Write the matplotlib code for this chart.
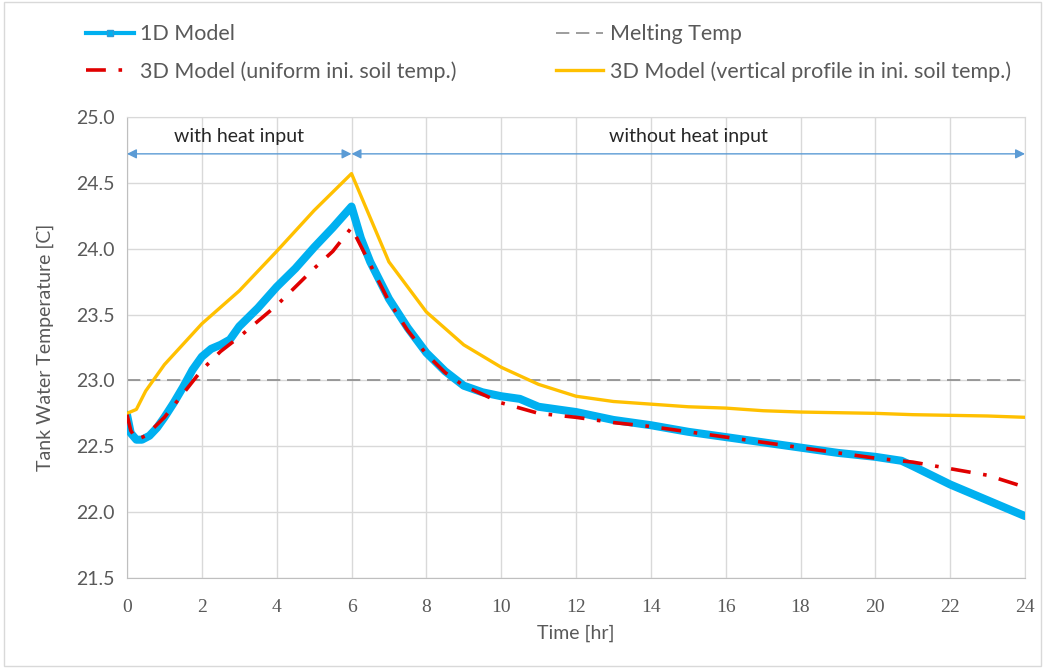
import matplotlib.pyplot as plt
from matplotlib.patches import Rectangle
import numpy as np

plt.rcParams['font.family'] = ['Lato', 'DejaVu Sans']

# data
t_1d = [0, 0.1, 0.25, 0.4, 0.6, 0.8, 1.0, 1.25, 1.5, 1.75, 2.0, 2.25, 2.5, 2.75, 3.0, 3.5, 4.0, 4.5, 5.0, 5.5, 6.0,
        6.25, 6.5, 7.0, 7.5, 8.0, 8.5, 9.0, 9.5, 10.0, 10.5, 11.0, 11.5, 12.0, 13.0, 14.0, 15.0, 16.0, 17.0, 18.0,
        19.0, 20.0, 20.7, 21.0, 22.0, 23.0, 24.0]
temp_1d = [22.74, 22.60, 22.55, 22.55, 22.58, 22.64, 22.72, 22.83, 22.95, 23.08, 23.18, 23.24, 23.27, 23.31, 23.41,
           23.55, 23.71, 23.85, 24.01, 24.16, 24.32, 24.08, 23.90, 23.62, 23.40, 23.21, 23.07, 22.96, 22.91, 22.88,
           22.86, 22.80, 22.78, 22.76, 22.70, 22.66, 22.61, 22.57, 22.53, 22.49, 22.45, 22.42, 22.39, 22.35, 22.21,
           22.09, 21.97]

t_3d_u = [0, 0.1, 0.25, 0.5, 1, 1.5, 2, 2.5, 3, 3.5, 4, 4.5, 5, 5.5, 6, 6.5, 7, 7.5, 8, 8.5, 9, 10, 11, 12, 13, 14,
          15, 16, 17, 18, 19, 20, 21, 22, 23, 24]
temp_3d_u = [22.74, 22.62, 22.55, 22.58, 22.72, 22.90, 23.08, 23.22, 23.33, 23.45, 23.57, 23.71, 23.85, 23.98, 24.16,
             23.88, 23.60, 23.38, 23.20, 23.06, 22.96, 22.83, 22.75, 22.72, 22.68, 22.65, 22.61, 22.57, 22.53, 22.49,
             22.45, 22.41, 22.38, 22.33, 22.28, 22.19]

t_3d_v = [0, 0.25, 0.5, 1, 2, 3, 4, 5, 6, 7, 8, 9, 10, 11, 12, 13, 14, 15, 16, 17, 18, 19, 20, 21, 22, 23, 24]
temp_3d_v = [22.75, 22.78, 22.92, 23.12, 23.43, 23.68, 23.98, 24.29, 24.57, 23.90, 23.52, 23.27, 23.10, 22.97, 22.88,
             22.84, 22.82, 22.80, 22.79, 22.77, 22.76, 22.755, 22.75, 22.74, 22.735, 22.73, 22.72]

melt_temp = 23.0
x_ticks = np.arange(0, 25, 2)
y_ticks = np.arange(21.5, 25.01, 0.5)

fig = plt.figure(figsize=(10.47, 6.68), dpi=100)
ax = fig.add_axes([0.1213, 0.1347, 0.8577, 0.6902])

ax.plot(t_1d, temp_1d, color='#00B0F0', lw=5.8, solid_capstyle='round', solid_joinstyle='round',
        label='1D Model', zorder=3)
ax.plot(t_3d_u, temp_3d_u, color='#E00000', lw=2.6, linestyle=(0, (5.5, 3.5, 1, 3.5)),
        label='3D Model (uniform ini. soil temp.)', zorder=4)
ax.axhline(melt_temp, color='#8C8C8C', lw=1.2, linestyle=(0, (8, 4)), label='Melting Temp', zorder=2)
ax.plot(t_3d_v, temp_3d_v, color='#FFC000', lw=2.4, label='3D Model (vertical profile in ini. soil temp.)', zorder=3)

ax.set_xlim(0, 24)
ax.set_ylim(21.5, 25.0)
ax.set_xticks(x_ticks)
ax.set_yticks(y_ticks)
ax.set_yticklabels(['%.1f' % v for v in y_ticks])
ax.grid(True, color='#D9D9D9', lw=1.0)
ax.set_axisbelow(True)
for s in ax.spines.values():
    s.set_color('#D9D9D9')
ax.spines['left'].set_color('#BFBFBF')
ax.spines['bottom'].set_color('#BFBFBF')
ax.tick_params(length=0, pad=9, colors='#595959', labelsize=14)
ax.tick_params(axis='x', pad=15)
for lab in ax.get_xticklabels():
    lab.set_family('Liberation Serif')
    lab.set_fontsize(14)

ax.set_xlabel('Time [hr]', fontsize=14, color='#595959', labelpad=6)
ax.set_ylabel('Tank Water Temperature [C]', fontsize=14, color='#595959', labelpad=16)

# heat input arrows
arr_y = 24.72
ax.annotate('', xy=(0, arr_y), xytext=(6, arr_y),
            arrowprops=dict(arrowstyle='<|-|>', color='#5B9BD5', lw=1.0, mutation_scale=14, shrinkA=0, shrinkB=0))
ax.annotate('', xy=(6, arr_y), xytext=(24, arr_y),
            arrowprops=dict(arrowstyle='<|-|>', color='#5B9BD5', lw=1.0, mutation_scale=14, shrinkA=0, shrinkB=0))
ax.text(3, 24.79, 'with heat input', ha='center', va='bottom', fontsize=14, color='#262626')
ax.text(15, 24.79, 'without heat input', ha='center', va='bottom', fontsize=14, color='#262626')

# legend marker for 1D model
h1 = plt.Line2D([], [], color='#00B0F0', lw=3, marker='s', markersize=5, markeredgecolor='#2E9BD6')
handles, labels = ax.get_legend_handles_labels()
handles[0] = h1
leg = fig.legend(handles, labels, loc='upper left', bbox_to_anchor=(0.064, 0.993), ncol=2, frameon=False,
                 fontsize=15.5, handlelength=2.2, columnspacing=4.6, labelspacing=0.8, handletextpad=0.3)
for txt in leg.get_texts():
    txt.set_color('#595959')

fig.patches.append(Rectangle((0.004, 0.003), 0.99, 0.994, transform=fig.transFigure,
                             fill=False, edgecolor='#D9D9D9', lw=1.0))

fig.savefig('out.png', dpi=100)
